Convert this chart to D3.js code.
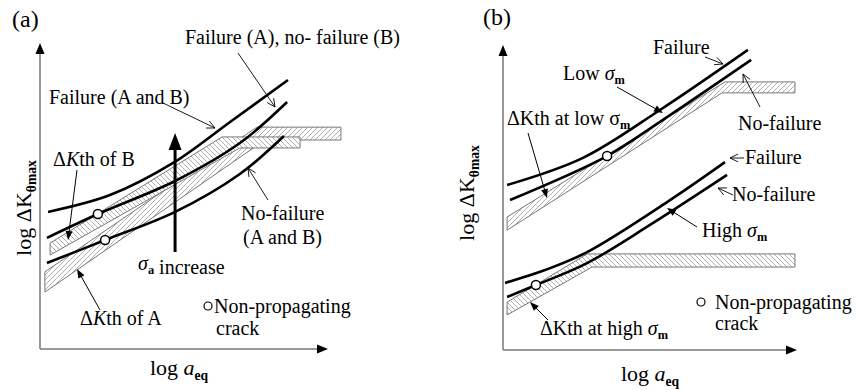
<!DOCTYPE html>
<html><head><meta charset="utf-8">
<script src="https://cdn.jsdelivr.net/npm/d3@7"></script>
<style>body{margin:0;background:#fff}svg{display:block}</style>
</head><body>
<svg id="c" width="865" height="390" font-family="'Liberation Serif','DejaVu Serif','Times New Roman',serif"></svg>
<script>
// ---------- DATA (schematic units 0–100 per panel) ----------
// Panel (a)
const aFailureAB   = [[2.8,44.8],[24.3,50.3],[46.2,60.8],[66.0,74.2],[86.1,87.9]];
const aFailAnoB    = [[2.4,36.3],[20.1,44.1],[46.9,54.9],[69.4,67.3],[85.8,80.7]];
const aNoFailureAB = [[2.4,28.1],[22.6,35.6],[46.9,44.8],[69.4,57.2],[84.7,69.6]];
const aBandB = [[3.5,34.6],[63.2,69.3],[90.3,69.3],[90.3,65.7],[69.4,65.7],[3.5,30.7]];
const aBandA = [[1.7,25.2],[75.3,72.5],[104.5,72.5],[104.5,68.3],[78.1,68.3],[1.7,18.6]];
const aCracks = [[20.1,44.1],[22.6,35.6]];
const aStressArrow = [[46.9,31.7],[46.9,70.6]];
// Panel (b)
const bLowFailure   = [[1.4,54.1],[27.2,63.0],[53.4,78.7],[83.3,98.4]];
const bLowNoFailure = [[2.4,49.2],[35.4,63.6],[53.4,74.8],[84.4,95.1]];
const bHighFailure  = [[0.7,22.0],[14.3,26.2],[28.6,32.1],[55.8,48.5],[75.5,61.6]];
const bHighNoFailure= [[1.4,17.4],[11.2,21.3],[28.6,28.5],[50.0,41.0],[76.2,57.4]];
const bBandLow  = [[1.4,43.6],[75.5,87.9],[99.3,87.9],[99.3,84.3],[74.5,84.3],[1.4,39.3]];
const bBandHigh = [[1.4,15.7],[28.6,31.5],[99.3,31.5],[99.3,27.2],[30.3,27.2],[1.4,11.5]];
const bCracks = [[35.4,63.6],[11.2,21.3]];

const svg = d3.select("#c");
const defs = svg.append("defs");
function hatch(id, dir){
  const p = defs.append("pattern").attr("id",id).attr("patternUnits","userSpaceOnUse")
    .attr("width",5).attr("height",5);
  p.append("rect").attr("width",5).attr("height",5).attr("fill","#fff");
  const d = dir>0 ? "M-1,1 L1,-1 M0,5 L5,0 M4,6 L6,4" : "M-1,4 L1,6 M0,0 L5,5 M4,-1 L6,1";
  p.append("path").attr("d",d).attr("stroke","#9a9a9a").attr("stroke-width",0.8);
}
hatch("hf",1); hatch("hb",-1);

function filledHead(g,x1,y1,x2,y2,len,wid){
  const a=Math.atan2(y2-y1,x2-x1);
  const px=-Math.sin(a), py=Math.cos(a);
  const bx=x2-len*Math.cos(a), by=y2-len*Math.sin(a);
  g.append("path").attr("d",`M${x2},${y2}L${bx+px*wid/2},${by+py*wid/2}L${bx-px*wid/2},${by-py*wid/2}Z`).attr("fill","#000");
}
function leader(g,x1,y1,x2,y2,type){
  const a=Math.atan2(y2-y1,x2-x1);
  if(type==="filled"){
    const ex=x2-6*Math.cos(a), ey=y2-6*Math.sin(a);
    g.append("line").attr("x1",x1).attr("y1",y1).attr("x2",ex).attr("y2",ey).attr("stroke","#000").attr("stroke-width",1);
    filledHead(g,x1,y1,x2,y2,9,7);
  } else {
    g.append("line").attr("x1",x1).attr("y1",y1).attr("x2",x2).attr("y2",y2).attr("stroke","#000").attr("stroke-width",0.9);
    const L=9, s=0.45;
    [a+Math.PI-s, a+Math.PI+s].forEach(b=>{
      g.append("line").attr("x1",x2).attr("y1",y2).attr("x2",x2+L*Math.cos(b)).attr("y2",y2+L*Math.sin(b))
        .attr("stroke","#000").attr("stroke-width",0.9);
    });
  }
}

function panel(r){
  const g = svg.append("g");
  const x = d3.scaleLinear().domain([0,100]).range(r.xr);
  const y = d3.scaleLinear().domain([0,100]).range(r.yr);
  const x0=x(0), y0=y(0), xt=x(100), yt=y(100);
  g.append("line").attr("x1",x0).attr("y1",y0).attr("x2",x0).attr("y2",yt+8).attr("stroke","#777").attr("stroke-width",1.5);
  g.append("line").attr("x1",x0).attr("y1",y0).attr("x2",xt-8).attr("y2",y0).attr("stroke","#777").attr("stroke-width",1.5);
  filledHead(g,x0,y0,x0,yt,11,9);
  filledHead(g,x0,y0,xt,y0,11,9);
  const poly = d3.line().x(d=>x(d[0])).y(d=>y(d[1]));
  r.bands.forEach(b=>{
    g.append("path").attr("d",poly(b.pts)+"Z").attr("fill",`url(#${b.h})`).attr("stroke","#777").attr("stroke-width",1);
  });
  const cl = d3.line().x(d=>x(d[0])).y(d=>y(d[1])).curve(d3.curveCatmullRom.alpha(0.5));
  r.curves.forEach(c=>{
    g.append("path").attr("d",cl(c)).attr("fill","none").attr("stroke","#000").attr("stroke-width",2.6);
  });
  r.cracks.forEach(c=>{
    g.append("circle").attr("cx",x(c[0])).attr("cy",y(c[1])).attr("r",4.5).attr("fill","#fff").attr("stroke","#000").attr("stroke-width",1.5);
  });
  return {g,x,y};
}

const A = panel({xr:[40,328], yr:[349,43], bands:[{pts:aBandA,h:"hf"},{pts:aBandB,h:"hb"}],
  curves:[aFailureAB,aFailAnoB,aNoFailureAB], cracks:aCracks});
const B = panel({xr:[503,797], yr:[350,45], bands:[{pts:bBandLow,h:"hf"},{pts:bBandHigh,h:"hb"}],
  curves:[bLowFailure,bLowNoFailure,bHighFailure,bHighNoFailure], cracks:bCracks});

A.g.append("line").attr("x1",A.x(aStressArrow[0][0])).attr("y1",A.y(aStressArrow[0][1]))
  .attr("x2",A.x(aStressArrow[1][0])).attr("y2",A.y(aStressArrow[1][1])+12).attr("stroke","#000").attr("stroke-width",3);
filledHead(A.g,A.x(aStressArrow[0][0]),A.y(aStressArrow[0][1]),A.x(aStressArrow[1][0]),A.y(aStressArrow[1][1]),17,13);

// ---------- text ----------
const FS=20;
function txt(x,y,parts,opt={}){
  const fs=opt.fs||FS;
  const t=svg.append("text").attr("x",x).attr("y",y).attr("font-size",fs).attr("fill","#000");
  if(opt.anchor) t.attr("text-anchor",opt.anchor);
  if(opt.rot) t.attr("transform",`rotate(-90,${x},${y})`);
  parts.forEach(p=>{
    if(typeof p==="string"){ t.append("tspan").text(p); }
    else {
      const s=t.append("tspan").text(p.t);
      if(p.i) s.attr("font-style","italic");
      if(p.sub){ s.attr("font-size",fs*0.62).attr("dy",fs*0.22).attr("font-weight","bold"); }
    }
  });
  return t;
}
const sub=(t)=>({t,sub:true}), it=(t)=>({t,i:true});

txt(12,27,["(a)"],{fs:24});
txt(483,25,["(b)"],{fs:24});
txt(31,208,["log ΔK",sub("θmax")],{rot:true,anchor:"middle",fs:22});
txt(474,193,["log ΔK",sub("θmax")],{rot:true,anchor:"middle",fs:22});
txt(179,375,["log ",it("a"),sub("eq")],{anchor:"middle",fs:22});
txt(650,381,["log ",it("a"),sub("eq")],{anchor:"middle",fs:22});

txt(185,44,["Failure (A), no- failure (B)"]);
leader(svg,238,53,275,107,"open");
txt(49,104,["Failure (A and B)"]);
leader(svg,163,103,215,128,"open");
txt(53,166,["Δ",it("K"),"th of B"]);
leader(svg,77,170,68,240,"filled");
txt(241,220,["No-failure"]);
txt(243,244,["(A and B)"]);
leader(svg,268,200,248,168,"open");
txt(138,270,[it("σ"),sub("a")," increase"]);
txt(80,325,["Δ",it("K"),"th of A"]);
leader(svg,100,310,77,269,"filled");
svg.append("circle").attr("cx",208).attr("cy",306).attr("r",4).attr("fill","#fff").attr("stroke","#000").attr("stroke-width",1.2);
txt(214,313,["Non-propagating"]);
txt(216,335,["crack"]);

txt(653,54,["Failure"]);
leader(svg,705,57,723,64,"open");
txt(563,80,["Low ",it("σ"),sub("m")]);
leader(svg,617,87,663,113,"filled");
txt(738,130,["No-failure"]);
leader(svg,760,107,743,74,"open");
txt(507,125,["ΔKth at low σ",sub("m")]);
leader(svg,528,133,547,198,"filled");
txt(745,164,["Failure"]);
leader(svg,744,158,730,158,"open");
txt(732,201,["No-failure"]);
leader(svg,733,195,718,188,"open");
txt(702,237,["High ",it("σ"),sub("m")]);
leader(svg,697,227,667,208,"filled");
svg.append("circle").attr("cx",701).attr("cy",302).attr("r",4).attr("fill","#fff").attr("stroke","#000").attr("stroke-width",1.2);
txt(715,309,["Non-propagating"]);
txt(715,330,["crack"]);
txt(540,335,["ΔKth at high ",it("σ"),sub("m")]);
leader(svg,548,320,530,302,"filled");
</script>
</body></html>
